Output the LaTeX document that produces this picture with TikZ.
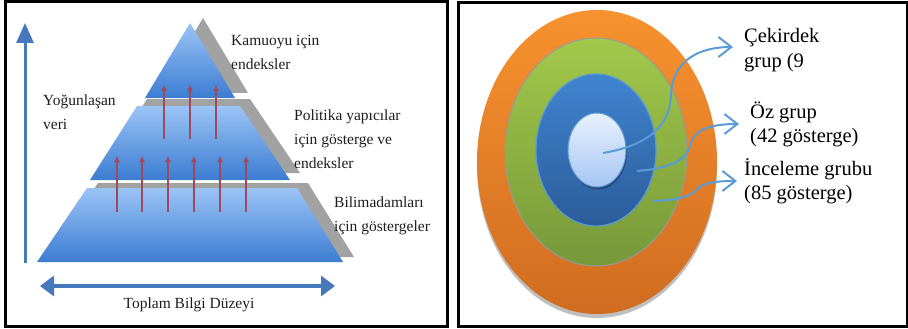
\documentclass[tikz,border=0pt]{standalone}
\usepackage{fontspec}
\setmainfont{Liberation Serif}
\usetikzlibrary{arrows.meta}
\definecolor{axisblue}{RGB}{70,120,190}
\definecolor{tiertop}{RGB}{155,196,246}
\definecolor{tiermid}{RGB}{125,173,238}
\definecolor{tierbot}{RGB}{60,124,210}
\definecolor{shadowgray}{RGB}{162,162,162}
\definecolor{redarrow}{RGB}{160,72,92}
\definecolor{txtdark}{RGB}{30,30,30}
\definecolor{orangetop}{RGB}{247,146,47}
\definecolor{orangebot}{RGB}{208,108,32}
\definecolor{greentop}{RGB}{162,200,74}
\definecolor{greenbot}{RGB}{118,152,58}
\definecolor{bluetop}{RGB}{64,132,208}
\definecolor{bluebot}{RGB}{44,92,154}
\definecolor{coretop}{RGB}{232,241,253}
\definecolor{corebot}{RGB}{166,198,243}
\definecolor{linkblue}{RGB}{91,155,213}
\begin{document}
\begin{tikzpicture}[x=1pt,y=-1pt,
  panel/.style={draw=black,line width=3pt},
  tier/.style={top color=tiertop,middle color=tiermid,bottom color=tierbot},
  tiershadow/.style={fill=shadowgray},
  redup/.style={draw=redarrow,line width=1.5pt,-{Triangle[length=6pt,width=5pt]}},
  lbl/.style={anchor=base west,inner sep=0pt,text=txtdark,font=\fontsize{15.5}{24}\selectfont},
  rlbl/.style={anchor=base west,inner sep=0pt,text=black,font=\fontsize{20.5}{24.5}\selectfont},
  link/.style={draw=linkblue,line width=2pt,-{Straight Barb[length=13pt,width=20pt,line width=2pt]}}]
\useasboundingbox (0,0) rectangle (908,329);
\fill[white] (0,0) rectangle (908,329);

% ---------- left panel ----------
% shadows
\fill[tiershadow] (190+13,23-5) -- (235+13,98-5) -- (145+13,98-5) -- cycle;
\fill[tiershadow] (137+10,106-7) -- (240+10,106-7) -- (290+10,180-7) -- (90+10,180-7) -- cycle;
\fill[tiershadow] (87+11,188-5) -- (297+11,188-5) -- (343+11,262-5) -- (37+11,262-5) -- cycle;
% tiers
\shade[tier] (190,23) -- (235,98) -- (145,98) -- cycle;
\shade[tier] (137,106) -- (240,106) -- (290,180) -- (90,180) -- cycle;
\shade[tier] (87,188) -- (297,188) -- (343,262) -- (37,262) -- cycle;

% red arrows
\foreach \x in {164,190,216} {
  \coordinate (ta\x) at (\x,139); \coordinate (tb\x) at (\x,85);
  \draw[redup] (ta\x) -- (tb\x);
}
\foreach \x in {117,142,168,194,220,246} {
  \coordinate (ma\x) at (\x,212); \coordinate (mb\x) at (\x,156);
  \draw[redup] (ma\x) -- (mb\x);
}

% axes
\coordinate (vbot) at (25,263);
\coordinate (vtop) at (25,23);
\draw[axisblue,line width=3pt,-{Triangle[length=20pt,width=17pt]}] (vbot) -- (vtop);
\coordinate (hl) at (40,286);
\coordinate (hr) at (335,286);
\draw[axisblue,line width=4pt,{Triangle[length=14pt,width=20pt]}-{Triangle[length=14pt,width=20pt]}] (hl) -- (hr);

% labels
\node[lbl] (kamu) at (231,46) {\begin{tabular}[t]{@{}l@{}}Kamuoyu için\\endeksler\end{tabular}};
\node[lbl] (poli) at (294,121) {\begin{tabular}[t]{@{}l@{}}Politika yapıcılar\\için gösterge ve\\endeksler\end{tabular}};
\node[lbl] (bilim) at (334,207) {\begin{tabular}[t]{@{}l@{}}Bilimadamları\\için göstergeler\end{tabular}};
\node[lbl] (yog) at (43,106) {\begin{tabular}[t]{@{}l@{}}Yoğunlaşan\\veri\end{tabular}};
\node[lbl,anchor=base] (toplam) at (189,308) {Toplam Bilgi Düzeyi};

\draw[panel] (5,2) rectangle (447,326);

% ---------- right panel ----------
\fill[black!25] (597,166) ellipse [x radius=120, y radius=152];
\shade[top color=orangetop,bottom color=orangebot] (597,162) ellipse [x radius=120, y radius=152];
\shade[top color=greentop,bottom color=greenbot,draw=black!40,line width=1pt] (596,152) ellipse [x radius=91, y radius=114];
\shade[top color=bluetop,bottom color=bluebot,draw=linkblue,line width=1.2pt] (596,150) ellipse [x radius=60, y radius=76];
\fill[bluebot!80!black] (598,152.5) ellipse [x radius=29, y radius=37];
\shade[top color=coretop,bottom color=corebot,draw=linkblue,line width=1pt] (597,150) ellipse [x radius=29, y radius=37];

\node[rlbl] (cek) at (744,43) {\begin{tabular}[t]{@{}l@{}}Çekirdek\\grup (9\end{tabular}};
\node[rlbl] (oz) at (750,118) {\begin{tabular}[t]{@{}l@{}}Öz grup\\(42 gösterge)\end{tabular}};
\node[rlbl] (inc) at (744,175) {\begin{tabular}[t]{@{}l@{}}İnceleme grubu\\(85 gösterge)\end{tabular}};

\coordinate (s1) at (603,153);
\coordinate (e1) at (733,47);
\coordinate (s2) at (637,171);
\coordinate (e2) at (739,124);
\coordinate (s3) at (653,201);
\coordinate (e3) at (737,181);
\draw[link] (s1) .. controls (650,145) and (670,125) .. (671,95) .. controls (672,60) and (700,47) .. (e1);
\draw[link] (s2) .. controls (675,168) and (688,158) .. (691,143) .. controls (695,128) and (715,124) .. (e2);
\draw[link] (s3) .. controls (680,200) and (692,196) .. (697,189) .. controls (703,183) and (715,181) .. (e3);

\draw[panel] (458,3) rectangle (907,326);
\end{tikzpicture}
\end{document}
